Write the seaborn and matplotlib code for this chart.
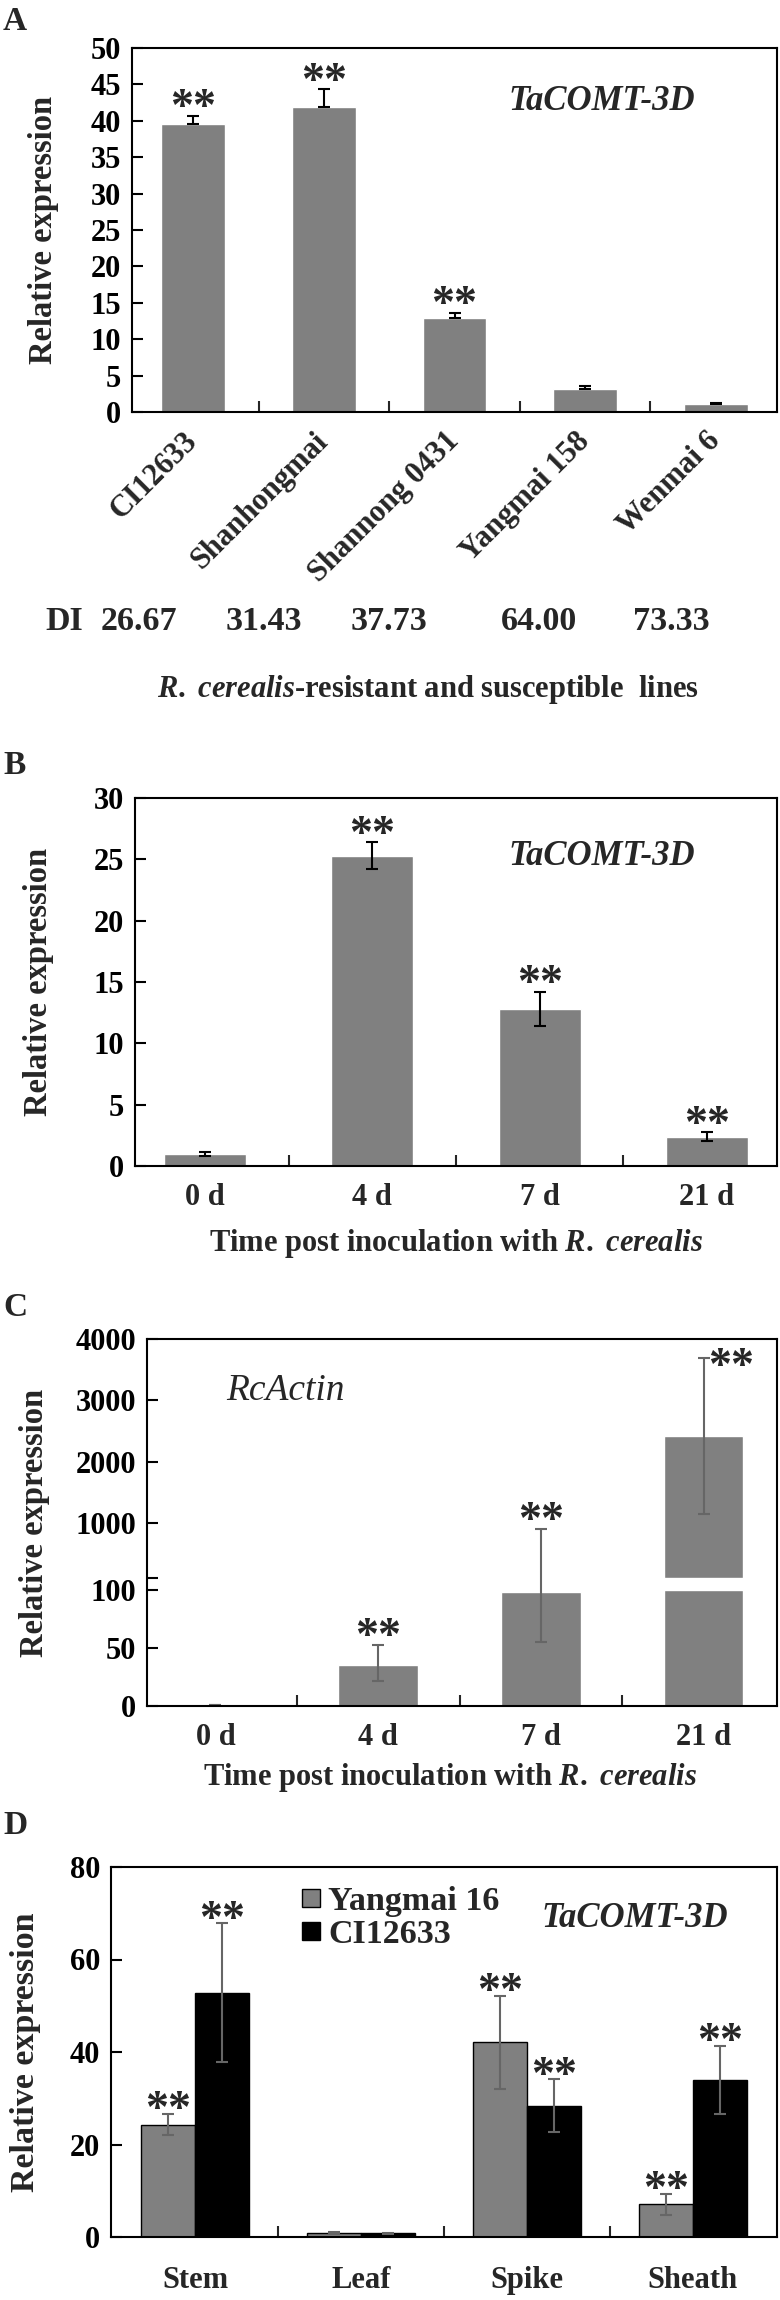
import numpy as np
import pandas as pd
import matplotlib
matplotlib.use("Agg")
import matplotlib.pyplot as plt
import seaborn as sns
from matplotlib.transforms import blended_transform_factory
from matplotlib.lines import Line2D

# ---------------- data ----------------
a_lines = ["CI12633", "Shanhongmai", "Shannong 0431", "Yangmai 158", "Wenmai 6"]
a_expr = [39.6, 41.9, 12.95, 3.15, 1.05]
a_err = [1.1, 2.4, 0.65, 0.45, 0.15]
a_di = ["26.67", "31.43", "37.73", "64.00", "73.33"]
a_sig = ["**", "**", "**", "", ""]

b_days = ["0 d", "4 d", "7 d", "21 d"]
b_expr = [1.0, 25.3, 12.8, 2.4]
b_err = [0.15, 1.1, 1.4, 0.35]
b_sig = ["", "**", "**", "**"]

c_days = ["0 d", "4 d", "7 d", "21 d"]
c_expr = [1, 35, 98, 2420]
c_err_low = [0, 13.5, 43, 1272]
c_err_high = [0, 17.5, 804, 1272]
c_sig = ["", "**", "**", "**"]
c_ticks = [0, 50, 100, 1000, 2000, 3000, 4000]

d_tissues = ["Stem", "Leaf", "Spike", "Sheath"]
d_lines = ["Yangmai 16", "CI12633"]
d_y16 = [24.3, 0.9, 42.1, 7.1]
d_y16_err = [2.3, 0.2, 10.1, 2.3]
d_ci = [52.8, 0.8, 28.4, 34.0]
d_ci_err = [15.0, 0.1, 5.7, 7.4]
d_y16_sig = ["**", "", "**", "**"]
d_ci_sig = ["**", "", "**", "**"]

# ---------------- style ----------------
sns.set_theme(style="white")
plt.rcParams["font.family"] = ["Liberation Serif", "DejaVu Serif"]
plt.rcParams["font.weight"] = "bold"
plt.rcParams["mathtext.fontset"] = "custom"
plt.rcParams["mathtext.rm"] = "Liberation Serif:bold"
plt.rcParams["mathtext.it"] = "Liberation Serif:italic:bold"

W, H = 780, 2300
fig = plt.figure(figsize=(W / 100, H / 100), dpi=100)
GRAY = "#808080"
ERRGRAY = "#666666"
TICK_FS = 22
LAB_FS = 23.5
STAR_FS = 33
GENE_FS = 25
XLAB_FS = 22
LET_FS = 24


def rect(x0, x1, ytop, ybot):
    return [x0 / W, 1 - ybot / H, (x1 - x0) / W, (ybot - ytop) / H]


def style_axes(ax, n, xpad=12):
    for s in ax.spines.values():
        s.set_visible(True)
        s.set_color("black")
        s.set_linewidth(1.5)
    ax.tick_params(axis="y", which="both", direction="in", length=8, width=1.5,
                   pad=8, labelsize=TICK_FS, left=True, colors="black")
    ax.tick_params(axis="x", which="major", length=0, pad=xpad,
                   labelsize=TICK_FS)
    ax.set_xticks(np.arange(n - 1) + 0.5, minor=True)
    ax.tick_params(axis="x", which="minor", direction="in", length=8,
                   width=1.5, bottom=True)
    ax.set_xlabel("")
    ax.set_ylabel("")
    for t in ax.get_xticklabels() + ax.get_yticklabels():
        t.set_fontweight("bold")


def ylabel(ax, xfrac, fs=LAB_FS):
    ax.set_ylabel("Relative expression", fontsize=fs, fontweight="bold")
    ax.yaxis.set_label_coords(xfrac, 0.5)


def xlabel(ax, yfrac, xfrac=0.5):
    ax.set_xlabel(r"Time post inoculation with $\mathit{R.\ cerealis}$",
                  fontsize=XLAB_FS, fontweight="bold")
    ax.xaxis.set_label_coords(xfrac, yfrac)
    ax.xaxis.label.set_va("center")


def stars(ax, xs, tops, sigs, off=4.7, fs=STAR_FS):
    for x, t, s in zip(xs, tops, sigs):
        if s:
            ax.annotate(s, xy=(x, t), xytext=(0, off), textcoords="offset points",
                        ha="center", va="center", fontsize=fs, fontweight="bold")


# ================= Panel A =================
axA = fig.add_axes(rect(132, 777, 48, 412))
dfa = pd.DataFrame({"line": a_lines, "expr": a_expr})
sns.barplot(data=dfa, x="line", y="expr", color=GRAY, saturation=1, width=0.49,
            errorbar=None, ax=axA)
xa = np.arange(len(a_lines))
axA.errorbar(xa, a_expr, yerr=[np.zeros(len(a_err)), a_err], fmt="none",
             ecolor="black", elinewidth=1.5, capsize=4.3, capthick=1.5)
axA.set_ylim(0, 50)
axA.set_yticks(np.arange(0, 51, 5))
style_axes(axA, len(a_lines))
axA.set_xticks(xa)
axA.set_xticklabels(a_lines, rotation=45, ha="right", va="center",
                    rotation_mode="anchor", fontsize=TICK_FS, fontweight="bold")
axA.tick_params(axis="x", which="major", pad=18)
ylabel(axA, -0.113)
stars(axA, xa, np.array(a_expr) + np.array(a_err), a_sig)
axA.text(0.729, 0.852, "TaCOMT-3D", transform=axA.transAxes, fontsize=GENE_FS,
         fontweight="bold", fontstyle="italic", ha="center", va="center")
# DI row
di_off = [-0.42, -0.46, -0.5, -0.35, -0.34]
trA = blended_transform_factory(axA.transData, fig.transFigure)
fig.text(64 / W, 1 - 622 / H, "DI", fontsize=24.5, fontweight="bold",
         ha="center", va="center")
for i, (v, o) in enumerate(zip(a_di, di_off)):
    axA.text(i + o, 1 - 622 / H, v, transform=trA, fontsize=24.5,
             fontweight="bold", ha="center", va="center")
fig.text(428 / W, 1 - 690 / H,
         r"$\mathit{R.\ cerealis}$-resistant and susceptible  lines",
         fontsize=XLAB_FS, fontweight="bold", ha="center", va="center")
fig.text(3 / W, 1 - 22 / H, "A", fontsize=LET_FS, fontweight="bold",
         ha="left", va="center")

# ================= Panel B =================
axB = fig.add_axes(rect(135, 777, 798, 1166))
dfb = pd.DataFrame({"day": b_days, "expr": b_expr})
sns.barplot(data=dfb, x="day", y="expr", color=GRAY, saturation=1, width=0.49,
            errorbar=None, ax=axB)
xb = np.arange(len(b_days))
axB.errorbar(xb, b_expr, yerr=b_err, fmt="none", ecolor="black",
             elinewidth=1.5, capsize=4.3, capthick=1.5)
axB.set_ylim(0, 30)
axB.set_yticks(np.arange(0, 31, 5))
style_axes(axB, len(b_days))
ylabel(axB, -0.126)
stars(axB, xb, np.array(b_expr) + np.array(b_err), b_sig)
axB.text(0.727, 0.842, "TaCOMT-3D", transform=axB.transAxes, fontsize=GENE_FS,
         fontweight="bold", fontstyle="italic", ha="center", va="center")
xlabel(axB, -(1243 - 1166) / 368)
fig.text(3 / W, 1 - 766 / H, "B", fontsize=LET_FS, fontweight="bold",
         ha="left", va="center")

# ================= Panel C (broken axis) =================
GAP = 0.2


def fwd(y):
    y = np.asarray(y, dtype=float)
    return np.where(y <= 100, y / 50.0, 2 + GAP + (y - 100) / 950.0)


def inv(u):
    u = np.asarray(u, dtype=float)
    return np.where(u <= 2, u * 50.0,
                    np.where(u < 2 + GAP, 100.0, 100 + (u - 2 - GAP) * 950.0))


axC = fig.add_axes(rect(147, 777, 1339, 1706))
axC.set_yscale("function", functions=(fwd, inv))
dfc = pd.DataFrame({"day": c_days, "expr": c_expr})
sns.barplot(data=dfc, x="day", y="expr", color=GRAY, saturation=1, width=0.49,
            errorbar=None, ax=axC)
xc = np.arange(len(c_days))
axC.errorbar(xc, c_expr, yerr=[c_err_low, c_err_high], fmt="none",
             ecolor=ERRGRAY, elinewidth=1.5, capsize=4.3, capthick=1.5)
# white break across the tallest bar (the axis gap at 100)
big = int(np.argmax(c_expr))
axC.bar(big, 0.001, bottom=100, width=0.55, color="white", zorder=3)
axC.set_ylim(0, 4000)
axC.set_yticks(c_ticks)
axC.set_yticklabels([str(t) for t in c_ticks])
axC.set_yticks([100.001], minor=True)
axC.set_yticklabels([""], minor=True)
style_axes(axC, len(c_days))
ylabel(axC, -0.154)
tops_c = np.array(c_expr) + np.array(c_err_high)
stars(axC, xc[:3], tops_c[:3], c_sig[:3])
axC.annotate(c_sig[3], xy=(xc[3], tops_c[3]), xytext=(20, -7.5),
             textcoords="offset points", ha="center", va="center",
             fontsize=STAR_FS, fontweight="bold")
axC.text(0.22, 0.858, "RcActin", transform=axC.transAxes, fontsize=27,
         fontweight="normal", fontstyle="italic", ha="center", va="center")
xlabel(axC, -(1777 - 1706) / 367, xfrac=(450 - 147) / 630)
fig.text(3 / W, 1 - 1308 / H, "C", fontsize=LET_FS, fontweight="bold",
         ha="left", va="center")

# ================= Panel D =================
axD = fig.add_axes(rect(111, 777, 1867, 2237))
dfd = pd.DataFrame({
    "tissue": d_tissues * 2,
    "line": [d_lines[0]] * 4 + [d_lines[1]] * 4,
    "expr": d_y16 + d_ci,
})
sns.barplot(data=dfd, x="tissue", y="expr", hue="line", hue_order=d_lines,
            palette={d_lines[0]: GRAY, d_lines[1]: "black"}, saturation=1,
            width=0.65, errorbar=None, edgecolor="black", linewidth=1.0,
            ax=axD, legend=False)
errs = [d_y16_err, d_ci_err]
sigs = [d_y16_sig, d_ci_sig]
for cont, e, s in zip(axD.containers, errs, sigs):
    xs = [p.get_x() + p.get_width() / 2 for p in cont.patches]
    hs = [p.get_height() for p in cont.patches]
    axD.errorbar(xs, hs, yerr=e, fmt="none", ecolor=ERRGRAY,
                 elinewidth=1.5, capsize=4.3, capthick=1.5)
    stars(axD, xs, np.array(hs) + np.array(e), s, off=2)
axD.set_ylim(0, 80)
axD.set_yticks(np.arange(0, 81, 20))
style_axes(axD, len(d_tissues), xpad=21)
ylabel(axD, -0.105, fs=24.5)
handles = [Line2D([], [], marker="s", linestyle="none", markersize=13,
                  markerfacecolor=GRAY, markeredgecolor="black"),
           Line2D([], [], marker="s", linestyle="none", markersize=13,
                  markerfacecolor="black", markeredgecolor="black")]
axD.legend(handles, d_lines, loc="upper left", bbox_to_anchor=(0.255, 0.995),
           frameon=False, handletextpad=0.1, labelspacing=0.05,
           borderpad=0, handlelength=0.8, prop={"weight": "bold", "size": 24.5})
axD.text(0.787, 0.86, "TaCOMT-3D", transform=axD.transAxes, fontsize=GENE_FS,
         fontweight="bold", fontstyle="italic", ha="center", va="center")
fig.text(3 / W, 1 - 1825 / H, "D", fontsize=LET_FS, fontweight="bold",
         ha="left", va="center")

fig.savefig("out.png", dpi=100, facecolor="white")
